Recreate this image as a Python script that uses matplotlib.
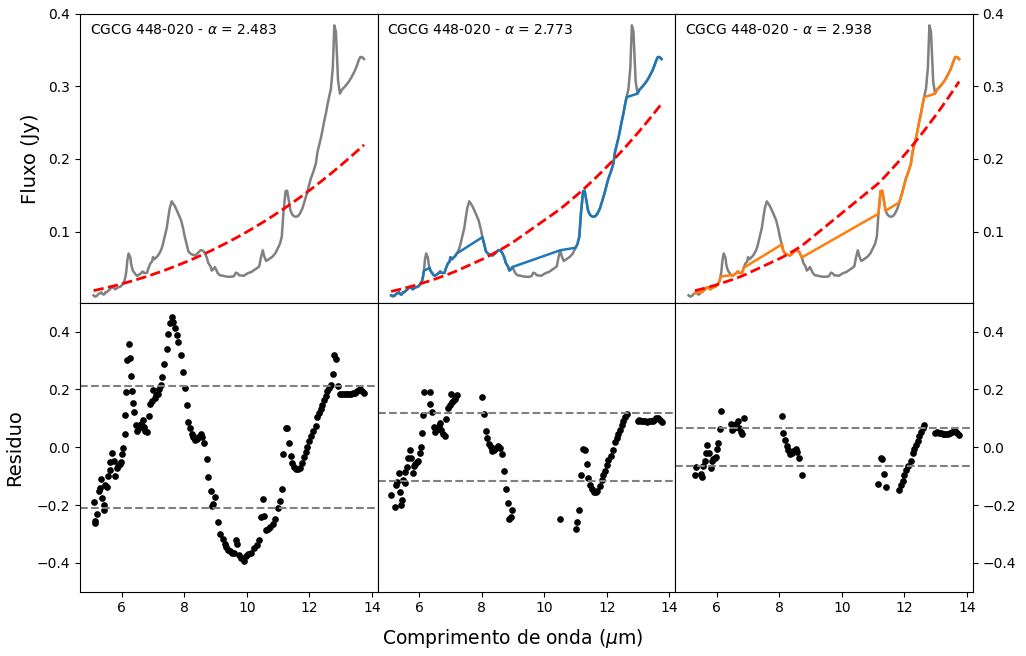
import numpy as np
import matplotlib.pyplot as plt

# espectro (comprimento de onda em micrometros, fluxo em Jy)
wave = np.array([
    5.10, 5.14, 5.16, 5.21, 5.26, 5.30, 5.35, 5.38, 5.42, 5.45,
    5.48, 5.53, 5.56, 5.61, 5.64, 5.69, 5.74, 5.80, 5.84, 5.88,
    5.93, 5.97, 6.01, 6.05, 6.09, 6.12, 6.15, 6.18, 6.22, 6.28,
    6.30, 6.33, 6.36, 6.40, 6.46, 6.50, 6.54, 6.59, 6.63, 6.67,
    6.71, 6.76, 6.81, 6.86, 6.92, 6.97, 7.00, 7.05, 7.10, 7.15,
    7.20, 7.25, 7.30, 7.36, 7.44, 7.49, 7.54, 7.60, 7.65, 7.70,
    7.76, 7.81, 7.90, 7.97, 8.02, 8.08, 8.13, 8.18, 8.24, 8.29,
    8.34, 8.40, 8.45, 8.53, 8.58, 8.64, 8.72, 8.77, 8.84, 8.88,
    8.93, 8.98, 9.07, 9.14, 9.23, 9.30, 9.35, 9.41, 9.46, 9.53,
    9.59, 9.65, 9.70, 9.76, 9.83, 9.91, 9.99, 10.05, 10.14, 10.24,
    10.33, 10.40, 10.45, 10.51, 10.56, 10.62, 10.68, 10.75, 10.83, 10.91,
    11.00, 11.06, 11.12, 11.17, 11.24, 11.29, 11.35, 11.40, 11.46, 11.52,
    11.58, 11.64, 11.70, 11.78, 11.84, 11.89, 11.94, 11.99, 12.05, 12.13,
    12.21, 12.26, 12.31, 12.37, 12.42, 12.47, 12.53, 12.58, 12.63, 12.69,
    12.75, 12.80, 12.85, 12.92, 12.98, 13.04, 13.10, 13.16, 13.22, 13.28,
    13.34, 13.40, 13.46, 13.52, 13.58, 13.63, 13.69, 13.75])

flux = np.array([
    0.0121, 0.0106, 0.0105, 0.0116, 0.0142, 0.0149, 0.0164, 0.0143, 0.0132, 0.0139,
    0.0166, 0.0166, 0.0184, 0.0197, 0.0214, 0.0234, 0.0225, 0.0205, 0.0222, 0.0230,
    0.0238, 0.0245, 0.0266, 0.0285, 0.0323, 0.0379, 0.0461, 0.0602, 0.0699, 0.0638,
    0.0556, 0.0500, 0.0460, 0.0437, 0.0401, 0.0390, 0.0404, 0.0417, 0.0432, 0.0451,
    0.0433, 0.0430, 0.0432, 0.0502, 0.0564, 0.0586, 0.0648, 0.0619, 0.0644, 0.0663,
    0.0698, 0.0736, 0.0796, 0.0905, 0.1048, 0.1196, 0.1330, 0.1417, 0.1385, 0.1351,
    0.1294, 0.1246, 0.1154, 0.1032, 0.0923, 0.0823, 0.0731, 0.0704, 0.0686, 0.0679,
    0.0671, 0.0689, 0.0712, 0.0745, 0.0740, 0.0719, 0.0644, 0.0567, 0.0519, 0.0463,
    0.0480, 0.0512, 0.0430, 0.0398, 0.0393, 0.0385, 0.0380, 0.0378, 0.0379, 0.0379,
    0.0387, 0.0434, 0.0427, 0.0398, 0.0395, 0.0392, 0.0416, 0.0430, 0.0442, 0.0472,
    0.0497, 0.0523, 0.0638, 0.0743, 0.0657, 0.0596, 0.0611, 0.0633, 0.0658, 0.0699,
    0.0778, 0.0830, 0.0932, 0.1246, 0.1557, 0.1563, 0.1415, 0.1287, 0.1232, 0.1210,
    0.1204, 0.1216, 0.1249, 0.1321, 0.1404, 0.1479, 0.1551, 0.1637, 0.1732, 0.1826,
    0.1939, 0.2094, 0.2184, 0.2289, 0.2393, 0.2508, 0.2628, 0.2746, 0.2851, 0.2965,
    0.3253, 0.3840, 0.3755, 0.3072, 0.2900, 0.2953, 0.2980, 0.3008, 0.3041, 0.3077,
    0.3119, 0.3169, 0.3219, 0.3285, 0.3359, 0.3404, 0.3403, 0.3376])

# lei de potencia F = f_ref * (lam / lam_ref) ** alpha
alphas = [2.483, 2.773, 2.938]
f_ref = [0.218, 0.274, 0.304]
lam_ref = 13.71

# desvio padrao dos residuos (linhas tracejadas)
sigmas = [0.211, 0.117, 0.065]

# intervalos removidos do ajuste (bandas PAH / linhas)
janelas = [
    [],
    [(5.12, 5.18), (6.16, 6.31), (7.23, 8.00), (9.02, 10.48), (10.54, 10.97),
     (12.66, 12.95)],
    [(5.00, 5.28), (5.36, 5.46), (6.13, 6.43), (6.88, 8.05), (8.74, 11.14),
     (11.42, 11.82), (12.66, 12.95)],
]
cores = [None, 'C0', 'C1']

fig, axes = plt.subplots(2, 3, figsize=(10.26, 6.56), dpi=100, sharex=True)
fig.subplots_adjust(left=0.078, right=0.948, top=0.979, bottom=0.098,
                    wspace=0, hspace=0)

for j in range(3):
    usa = np.ones(len(wave), dtype=bool)
    for lo, hi in janelas[j]:
        usa &= ~((wave > lo) & (wave < hi))
    x = wave[usa]
    y = flux[usa]
    modelo = f_ref[j] * (x / lam_ref) ** alphas[j]
    resid = np.log10(y / modelo)

    ax = axes[0, j]
    ax.plot(wave, flux, color='gray', lw=1.8,
            label=f'CGCG 448-020 - $\\alpha$ = {alphas[j]:.3f}')
    if cores[j]:
        ax.plot(x, y, color=cores[j], lw=1.8)
    ax.plot(x, modelo, 'r--', lw=2)
    ax.legend(loc='upper left', frameon=False, handlelength=0,
              handletextpad=0.0, fontsize=10, borderaxespad=0.3)
    ax.set_ylim(0.002, 0.4)
    ax.set_yticks([0.1, 0.2, 0.3, 0.4])
    ax.tick_params(axis='x', bottom=False)

    axr = axes[1, j]
    axr.plot(x, resid, 'o', color='k', ms=3.8)
    axr.axhline(sigmas[j], color='gray', ls='--', lw=1.5)
    axr.axhline(-sigmas[j], color='gray', ls='--', lw=1.5)
    axr.set_ylim(-0.5, 0.5)
    axr.set_yticks([-0.4, -0.2, 0.0, 0.2, 0.4])

axes[1, 0].set_xticks([6, 8, 10, 12, 14])

for i in range(2):
    axes[i, 1].tick_params(axis='y', left=False, labelleft=False)
    axes[i, 2].yaxis.tick_right()

axes[0, 0].set_ylabel('Fluxo (Jy)', fontsize=14, labelpad=6)
axes[1, 0].set_ylabel('Residuo', fontsize=14, labelpad=9)
fig.text(0.5, 0.018, 'Comprimento de onda ($\\mu$m)', ha='center', fontsize=13.5)

plt.savefig('out.png', dpi=100)
plt.close()
